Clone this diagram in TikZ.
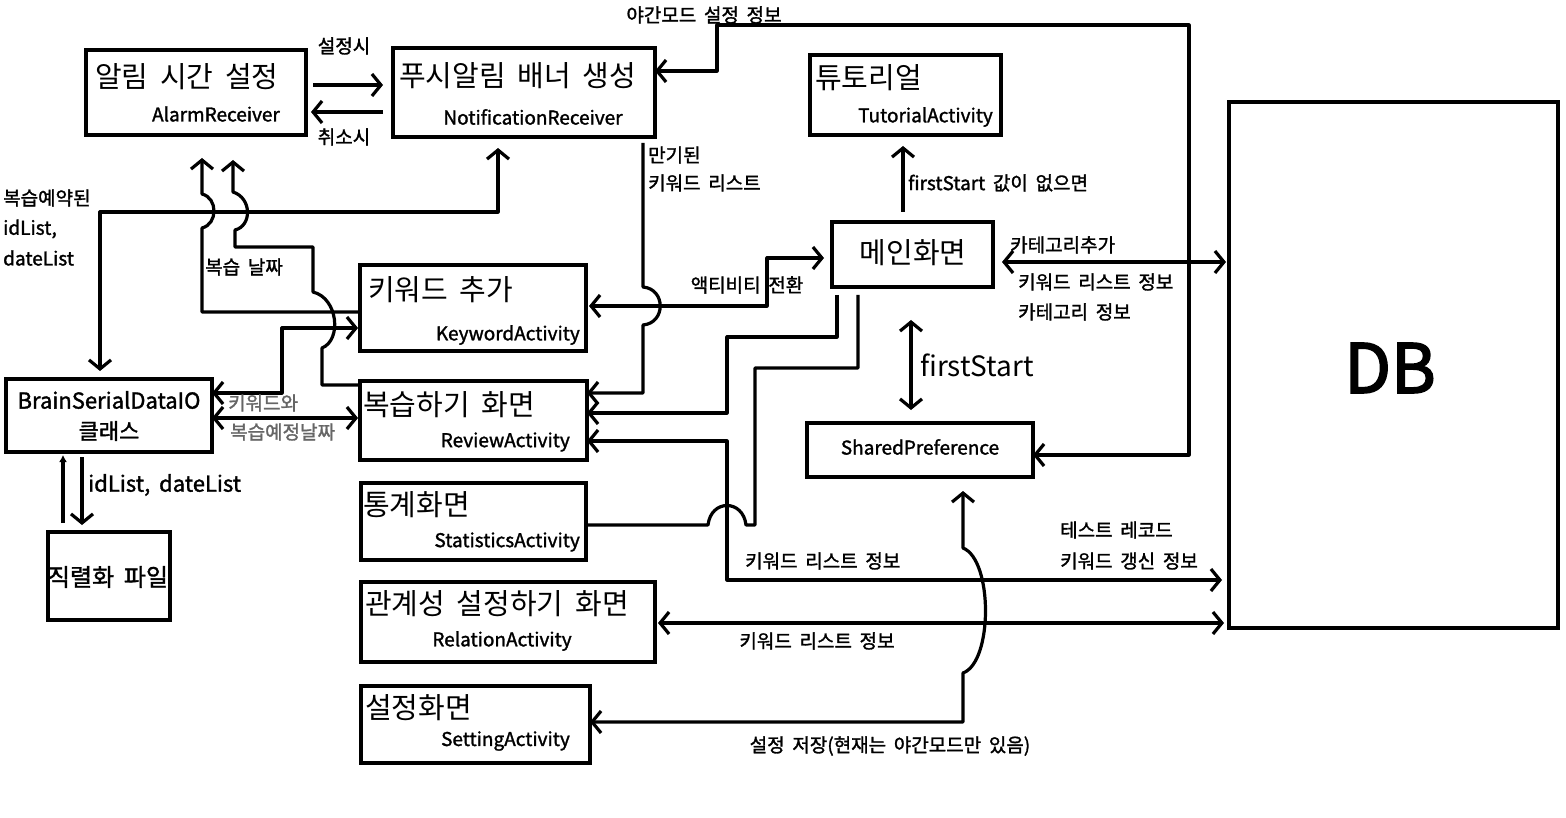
\documentclass[tikz,border=0pt]{standalone}
\usepackage{fontspec}
\setmainfont{Noto Sans CJK KR}[WordSpace=1.8]
\newfontfamily\medfnt{Noto Sans CJK KR}[WordSpace=1.8,FakeBold=1.5]
\newfontfamily\heavyfnt{Noto Sans CJK KR}[WordSpace=1.8,FakeBold=2.5]
\usetikzlibrary{arrows.meta}
\begin{document}
\begin{tikzpicture}[x=1pt,y=-1pt,
  >={Straight Barb[length=9pt,width=22pt]},
  box/.style={draw, line width=3.2pt, inner sep=0pt, outer sep=0pt, anchor=north west},
  ttl/.style={inner sep=0pt, font=\fontsize{29}{34}\selectfont},
  sub/.style={inner sep=0pt, font=\medfnt\fontsize{19}{22}\selectfont},
  lab/.style={inner sep=0pt, font=\medfnt\fontsize{19}{22}\selectfont, anchor=west},
  glab/.style={lab, text=black!60},
  con/.style={line width=3.2pt, line join=round}]
\fill[white] (0,0) rectangle (1566,818);
\useasboundingbox (0,0) rectangle (1566,818);

% boxes
\node[box, minimum width=220pt, minimum height=85pt] (alarm) at (86,50) {};
\node[ttl, anchor=west] (alarmT) at (95,77) {알림 시간 설정};
\node[sub, anchor=east] (alarmS) at (280,114) {AlarmReceiver};

\node[box, minimum width=262pt, minimum height=89pt] (noti) at (393,48) {};
\node[ttl, anchor=west] (notiT) at (399,76) {푸시알림 배너 생성};
\node[sub] (notiS) at (533,117) {NotificationReceiver};

\node[box, minimum width=191pt, minimum height=80pt] (tut) at (810,55) {};
\node[ttl, anchor=west] (tutT) at (815,78) {튜토리얼};
\node[sub, anchor=east] (tutS) at (993,117) {TutorialActivity};

\node[box, minimum width=161pt, minimum height=65pt] (main) at (832,222) {};
\node[ttl] (mainT) at (913,253) {메인화면};

\node[box, minimum width=226pt, minimum height=86pt] (keyw) at (360,265) {};
\node[ttl, anchor=west] (keywT) at (368,290) {키워드 추가};
\node[sub, anchor=east] (keywS) at (580,335) {KeywordActivity};

\node[box, minimum width=227pt, minimum height=79pt] (review) at (360,381) {};
\node[ttl, anchor=west] (reviewT) at (363,405) {복습하기 화면};
\node[sub, anchor=east] (reviewS) at (570,442) {ReviewActivity};

\node[box, minimum width=225pt, minimum height=77pt] (stats) at (361,483) {};
\node[ttl, anchor=west] (statsT) at (363,505) {통계화면};
\node[sub, anchor=east] (statsS) at (580,542) {StatisticsActivity};

\node[box, minimum width=294pt, minimum height=80pt] (rel) at (361,582) {};
\node[ttl, anchor=west] (relT) at (365,604) {관계성 설정하기 화면};
\node[sub] (relS) at (502,641) {RelationActivity};

\node[box, minimum width=229pt, minimum height=77pt] (set) at (361,686) {};
\node[ttl, anchor=west] (setT) at (365,708) {설정화면};
\node[sub, anchor=east] (setS) at (570,741) {SettingActivity};

\node[box, minimum width=206pt, minimum height=73pt] (brain) at (6,379) {};
\node[inner sep=0pt, font=\medfnt\fontsize{22}{26}\selectfont] (brainA) at (109,400) {BrainSerialDataIO};
\node[inner sep=0pt, font=\medfnt\fontsize{22}{26}\selectfont] (brainB) at (109,431) {클래스};

\node[box, minimum width=122pt, minimum height=88pt] (serial) at (48,532) {};
\node[inner sep=0pt, font=\medfnt\fontsize{24}{28}\selectfont] (serialT) at (108,577) {직렬화 파일};

\node[box, minimum width=226pt, minimum height=54pt] (shared) at (807,423) {};
\node[sub] (sharedT) at (920,447) {SharedPreference};

\node[box, minimum width=329pt, minimum height=526pt] (db) at (1229,102) {};
\node[inner sep=0pt, font=\heavyfnt\fontsize{68}{72}\selectfont] (dbT) at (1390,368) {DB};

% alarm <-> notification
\draw[con,->,shorten <=7pt,shorten >=10pt] (alarm.east |- 0,85) -- (noti.west |- 0,85);
\node[lab,anchor=center] (l1) at (344,46) {설정시};
\draw[con,->,shorten <=10pt,shorten >=5pt] (noti.west |- 0,112) -- (alarm.east |- 0,112);
\node[lab,anchor=center] (l2) at (344,137) {취소시};

% night mode info
\draw[con,<->] (shared.east |- 0,455) -- (1189,455) -- (1189,25) -- (717,25) -- (717,71) -- (noti.east |- 0,71);
\node[lab,anchor=center] (l3) at (704,15) {야간모드 설정 정보};

% main -> tutorial
\draw[con,->,shorten <=10pt,shorten >=11pt] (main.north -| 903,0) -- (tut.south -| 903,0);
\node[lab] (l4) at (908,183) {firstStart 값이 없으면};

% main <-> db
\draw[con,<->,shorten <=9pt,shorten >=3pt] (main.east |- 0,262) -- (db.west |- 0,262);
\node[lab] (l5) at (1010,245) {카테고리추가};
\node[lab] (l6) at (1018,282) {키워드 리스트 정보};
\node[lab] (l7) at (1018,312) {카테고리 정보};

% main <-> shared
\draw[con,<->,shorten <=33pt,shorten >=13pt] (main.south -| 911,0) -- (shared.north -| 911,0);
\node[lab, font=\fontsize{28}{32}\selectfont] (l8) at (920,365) {firstStart};

% setting <-> shared
\draw[con,<->,shorten >=14pt] (set.east |- 0,722) -- (963,722) -- (963,673) .. controls (993,662) and (993,560) .. (963,548) -- (shared.south -| 963,0);
\node[lab,anchor=center] (l9) at (890,746) {설정 저장(현재는 야간모드만 있음)};

% review <-> db
\draw[con,<->,shorten >=7pt] (review.east |- 0,441) -- (727,441) -- (727,580) -- (db.west |- 0,580);
\node[lab] (l10) at (745,561) {키워드 리스트 정보};
\node[lab] (l11) at (1060,530) {테스트 레코드};
\node[lab] (l12) at (1060,561) {키워드 갱신 정보};

% relation <-> db
\draw[con,<->,shorten <=3pt,shorten >=5pt] (rel.east |- 0,623) -- (db.west |- 0,623);
\node[lab,anchor=center] (l13) at (817,641) {키워드 리스트 정보};

% main -> review
\draw[con,->,shorten <=8pt] (main.south -| 837,0) -- (837,337) -- (727,337) -- (727,413) -- (review.east |- 0,413);

% main - statistics
\draw[con,shorten >=8pt] (stats.east |- 0,525) -- (708,525) .. controls (711,499) and (743,499) .. (746,525) -- (755,525) -- (755,368) -- (858,368) -- (main.south -| 858,0);

% keyword <-> main
\draw[con,<->,shorten <=3pt,shorten >=8pt] (keyw.east |- 0,306) -- (767,306) -- (767,258) -- (main.west |- 0,258);
\node[lab,anchor=center] (l14) at (747,285) {액티비티 전환};

% expired keywords
\draw[con,->,shorten <=6pt] (noti.south -| 643,0) -- (643,287) .. controls (666,289) and (666,323) .. (643,325) -- (643,393) -- (review.east |- 0,393);
\node[lab] (l15) at (648,155) {만기된};
\node[lab] (l16) at (648,183) {키워드 리스트};

% reserved lists
\draw[con,<->,shorten <=11pt,shorten >=8pt] (noti.south -| 498,0) -- (498,212) -- (100,212) -- (brain.north -| 100,0);
\node[lab] (l17) at (3,198) {복습예약된};
\node[lab] (l18) at (3,229) {idList,};
\node[lab] (l19) at (3,258) {dateList};

% keyword -> alarm
\draw[con,->,shorten >=23pt] (keyw.west |- 0,312) -- (202,312) -- (202,228) .. controls (218,224) and (218,198) .. (202,194) -- (alarm.south -| 202,0);
% review -> alarm
\draw[con,->,shorten >=25pt] (review.west |- 0,385) -- (322,385) -- (322,348) .. controls (342,340) and (338,298) .. (313,292) -- (313,247) -- (235,247) -- (235,230) .. controls (252,226) and (252,198) .. (233,192) -- (alarm.south -| 233,0);
\node[lab] (l20) at (205,267) {복습 날짜};

% brain <-> keyword / review
\draw[con,<->,shorten >=2pt] (brain.east |- 0,393) -- (282,393) -- (282,328) -- (keyw.west |- 0,328);
\draw[con,<->,shorten >=2pt] (brain.east |- 0,418) -- (review.west |- 0,418);
\node[glab] (l21) at (228,403) {키워드와};
\node[glab] (l22) at (230,432) {복습예정날짜};

% brain <-> serial file
\draw[con,-{Latex[length=7pt,width=8pt]},shorten <=9pt,shorten >=3pt] (serial.north -| 63,0) -- (brain.south -| 63,0);
\draw[con,->,shorten <=5pt,shorten >=7pt] (brain.south -| 82,0) -- (serial.north -| 82,0);
\node[lab, font=\medfnt\fontsize{22}{26}\selectfont] (l23) at (88,485) {idList, dateList};
\end{tikzpicture}
\end{document}
